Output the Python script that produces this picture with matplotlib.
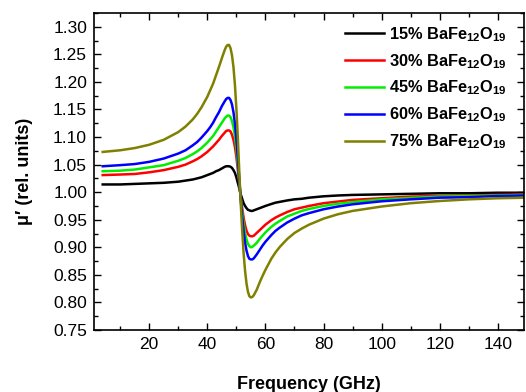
import matplotlib
matplotlib.use("Agg")
import matplotlib.pyplot as plt
from matplotlib.ticker import MultipleLocator

plt.rcParams['font.family'] = ['Liberation Sans', 'DejaVu Sans']
plt.rcParams['mathtext.fontset'] = 'custom'
plt.rcParams['mathtext.rm'] = 'Liberation Sans'
plt.rcParams['mathtext.bf'] = 'Liberation Sans:bold'

# Frequency grid (GHz)
freq = [4, 10, 15, 20, 25, 30, 32.5, 35, 36.5, 38,
        40, 41, 42, 43, 44, 45, 46, 46.5, 47, 47.5,
        48, 48.5, 49, 49.5, 50, 50.5, 51, 51.5, 52, 52.5,
        53, 53.5, 54, 54.5, 55, 55.5, 56, 57, 58, 59,
        60, 62, 63.5, 65, 67.5, 70, 72.5, 75, 80, 85,
        90, 100, 110, 120, 130, 140, 150]

mu_15 = [1.014, 1.014, 1.015, 1.016, 1.017, 1.019, 1.021, 1.023, 1.025, 1.027,
         1.031, 1.033, 1.035, 1.038, 1.040, 1.043, 1.046, 1.047, 1.047, 1.047,
         1.046, 1.044, 1.040, 1.035, 1.027, 1.017, 1.007, 0.996, 0.988, 0.980,
         0.975, 0.971, 0.968, 0.967, 0.966, 0.966, 0.967, 0.969, 0.971, 0.973,
         0.975, 0.9785, 0.981, 0.9825, 0.985, 0.987, 0.988, 0.990, 0.9925, 0.994,
         0.995, 0.996, 0.997, 0.998, 0.998, 0.999, 0.999]
mu_30 = [1.031, 1.032, 1.033, 1.036, 1.040, 1.046, 1.050, 1.056, 1.060, 1.065,
         1.073, 1.078, 1.083, 1.089, 1.095, 1.102, 1.108, 1.111, 1.112, 1.112,
         1.110, 1.104, 1.095, 1.082, 1.064, 1.041, 1.016, 0.991, 0.971, 0.9535,
         0.940, 0.930, 0.924, 0.921, 0.920, 0.920, 0.921, 0.926, 0.931, 0.936,
         0.941, 0.949, 0.954, 0.958, 0.964, 0.969, 0.972, 0.975, 0.980, 0.983,
         0.986, 0.989, 0.992, 0.993, 0.994, 0.995, 0.996]
mu_45 = [1.038, 1.039, 1.041, 1.045, 1.049, 1.057, 1.062, 1.069, 1.074, 1.080,
         1.090, 1.096, 1.102, 1.110, 1.118, 1.126, 1.134, 1.137, 1.139, 1.139,
         1.136, 1.129, 1.118, 1.102, 1.079, 1.051, 1.020, 0.989, 0.964, 0.942,
         0.926, 0.914, 0.906, 0.902, 0.900, 0.901, 0.903, 0.908, 0.915, 0.921,
         0.927, 0.937, 0.943, 0.948, 0.956, 0.961, 0.966, 0.9695, 0.975, 0.979,
         0.982, 0.987, 0.9895, 0.992, 0.993, 0.994, 0.995]
mu_60 = [1.047, 1.049, 1.051, 1.055, 1.061, 1.070, 1.076, 1.085, 1.091, 1.099,
         1.111, 1.118, 1.126, 1.136, 1.145, 1.156, 1.165, 1.169, 1.171, 1.171,
         1.167, 1.159, 1.145, 1.125, 1.097, 1.063, 1.024, 0.987, 0.956, 0.929,
         0.908, 0.894, 0.884, 0.879, 0.878, 0.878, 0.880, 0.887, 0.895, 0.903,
         0.910, 0.922, 0.930, 0.936, 0.945, 0.952, 0.958, 0.962, 0.969, 0.974,
         0.978, 0.9835, 0.987, 0.990, 0.991, 0.993, 0.994]
mu_75 = [1.073, 1.076, 1.080, 1.086, 1.095, 1.109, 1.119, 1.132, 1.142, 1.154,
         1.173, 1.185, 1.197, 1.212, 1.227, 1.243, 1.258, 1.264, 1.267, 1.267,
         1.261, 1.248, 1.227, 1.195, 1.152, 1.099, 1.038, 0.980, 0.931, 0.889,
         0.857, 0.834, 0.819, 0.811, 0.809, 0.810, 0.813, 0.823, 0.836, 0.848,
         0.859, 0.879, 0.891, 0.901, 0.915, 0.926, 0.934, 0.941, 0.952, 0.960,
         0.966, 0.974, 0.980, 0.984, 0.987, 0.989, 0.990]

series = [mu_15, mu_30, mu_45, mu_60, mu_75]
labels = [r"15% BaFe$_\mathbf{12}$O$_\mathbf{19}$",
          r"30% BaFe$_\mathbf{12}$O$_\mathbf{19}$",
          r"45% BaFe$_\mathbf{12}$O$_\mathbf{19}$",
          r"60% BaFe$_\mathbf{12}$O$_\mathbf{19}$",
          r"75% BaFe$_\mathbf{12}$O$_\mathbf{19}$"]
colors = ["#000000", "#ff0000", "#00ee00", "#0000ff", "#808000"]

fig = plt.figure(figsize=(5.26, 3.92), dpi=100)
ax = fig.add_axes([94 / 526, 1 - 330 / 392, 430 / 526, 317 / 392])

for vals, lab, col in zip(series, labels, colors):
    ax.plot(freq, vals, color=col, lw=1.8, label=lab)

ax.set_xlim(1, 149)
ax.set_ylim(0.75, 1.325)
ax.xaxis.set_major_locator(MultipleLocator(20))
ax.xaxis.set_minor_locator(MultipleLocator(10))
ax.yaxis.set_major_locator(MultipleLocator(0.05))
ax.yaxis.set_minor_locator(MultipleLocator(0.025))
ax.yaxis.set_major_formatter(plt.FormatStrFormatter('%.2f'))

ax.tick_params(which='both', direction='in', top=True, right=True, width=1.0)
ax.tick_params(which='major', length=5, labelsize=12.5, pad=5)
ax.tick_params(which='minor', length=3)
for sp in ax.spines.values():
    sp.set_linewidth(1.2)

ax.set_xlabel("Frequency (GHz)", fontsize=13, fontweight='bold', labelpad=17)
ax.set_ylabel("μ′ (rel. units)", fontsize=13, fontweight='bold', labelpad=14)

leg = ax.legend(loc='upper left', bbox_to_anchor=(345 / 526, 1 - 25 / 392),
                bbox_transform=fig.transFigure, frameon=False, borderpad=0,
                borderaxespad=0, handlelength=2.35, handletextpad=0.35,
                labelspacing=0.5, prop={'weight': 'bold', 'size': 11.8})

fig.savefig("out.png", dpi=100)
